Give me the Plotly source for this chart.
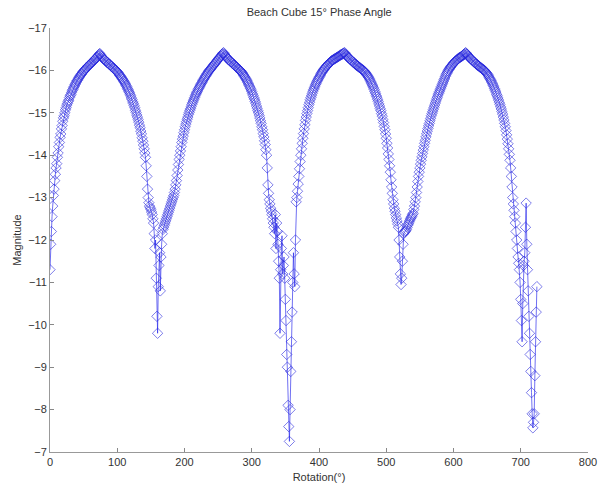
import plotly.graph_objects as go

# Measured magnitude at each rotation angle, one sample per degree (0..724)
magnitude = [
    -11.3, -11.9, -12.2, -12.55, -12.8, -13.05, -13.2, -13.4, -13.55, -13.7,
    -13.8, -13.95, -14.05, -14.2, -14.3, -14.42, -14.5, -14.62, -14.7, -14.8,
    -14.88, -14.93, -15.0, -15.07, -15.12, -15.18, -15.22, -15.27, -15.3, -15.36,
    -15.4, -15.43, -15.48, -15.52, -15.55, -15.59, -15.62, -15.66, -15.68, -15.72,
    -15.75, -15.77, -15.8, -15.83, -15.85, -15.88, -15.9, -15.92, -15.94, -15.97,
    -15.98, -16.0, -16.02, -16.04, -16.06, -16.07, -16.09, -16.11, -16.12, -16.14,
    -16.15, -16.17, -16.18, -16.2, -16.22, -16.23, -16.25, -16.27, -16.28, -16.3,
    -16.31, -16.33, -16.35, -16.38, -16.4, -16.37, -16.34, -16.32, -16.3, -16.28,
    -16.27, -16.25, -16.24, -16.22, -16.21, -16.19, -16.18, -16.16, -16.15, -16.13,
    -16.12, -16.1, -16.09, -16.07, -16.06, -16.04, -16.03, -16.01, -16.0, -15.98,
    -15.97, -15.95, -15.93, -15.9, -15.88, -15.86, -15.84, -15.81, -15.79, -15.76,
    -15.74, -15.71, -15.68, -15.65, -15.62, -15.58, -15.55, -15.51, -15.48, -15.44,
    -15.4, -15.35, -15.31, -15.26, -15.22, -15.17, -15.12, -15.06, -15.01, -14.95,
    -14.9, -14.84, -14.78, -14.71, -14.65, -14.57, -14.5, -14.41, -14.33, -14.24,
    -14.15, -14.05, -13.95, -13.75, -13.5, -13.2, -13.0, -12.88, -12.8, -12.76,
    -12.72, -12.66, -12.6, -12.5, -12.4, -12.15, -11.8, -12.0, -11.1, -10.2,
    -9.8, -10.9, -11.4, -11.7, -10.8, -11.6, -11.9, -12.15, -12.25, -12.3,
    -12.35, -12.4, -12.45, -12.5, -12.55, -12.6, -12.65, -12.7, -12.75, -12.8,
    -12.85, -12.9, -12.95, -13.0, -13.05, -13.12, -13.2, -13.3, -13.4, -13.52,
    -13.65, -13.78, -13.9, -14.0, -14.1, -14.2, -14.3, -14.38, -14.45, -14.53,
    -14.6, -14.67, -14.73, -14.79, -14.85, -14.9, -14.96, -15.01, -15.06, -15.1,
    -15.15, -15.2, -15.24, -15.28, -15.32, -15.36, -15.4, -15.44, -15.47, -15.5,
    -15.54, -15.57, -15.6, -15.63, -15.66, -15.69, -15.72, -15.75, -15.78, -15.8,
    -15.83, -15.86, -15.88, -15.91, -15.93, -15.96, -15.98, -16.0, -16.02, -16.04,
    -16.06, -16.08, -16.1, -16.12, -16.14, -16.16, -16.18, -16.2, -16.22, -16.24,
    -16.26, -16.28, -16.3, -16.32, -16.34, -16.36, -16.38, -16.4, -16.42, -16.39,
    -16.36, -16.34, -16.32, -16.3, -16.28, -16.26, -16.25, -16.23, -16.22, -16.2,
    -16.19, -16.17, -16.16, -16.14, -16.13, -16.11, -16.1, -16.08, -16.07, -16.05,
    -16.04, -16.02, -16.01, -15.99, -15.98, -15.96, -15.94, -15.91, -15.89, -15.86,
    -15.84, -15.81, -15.78, -15.75, -15.72, -15.68, -15.65, -15.61, -15.58, -15.54,
    -15.5, -15.45, -15.41, -15.36, -15.32, -15.27, -15.22, -15.16, -15.11, -15.05,
    -15.0, -14.94, -14.88, -14.81, -14.75, -14.67, -14.6, -14.51, -14.43, -14.34,
    -14.25, -14.13, -14.0, -13.7, -13.3, -13.1, -12.95, -12.85, -12.75, -12.68,
    -12.6, -12.5, -12.4, -12.3, -12.15, -12.6, -11.8, -12.4, -12.2, -11.9,
    -11.5, -11.1, -9.8, -11.3, -11.8, -12.1, -11.2, -11.4, -11.6, -11.1,
    -10.6, -10.1, -9.3, -9.0, -8.1, -7.6, -7.25, -8.0, -8.9, -9.6,
    -10.3, -11.0, -11.7, -11.2, -10.9, -12.0, -12.9, -13.0, -13.15, -13.32,
    -13.5, -13.68, -13.85, -14.0, -14.15, -14.28, -14.4, -14.51, -14.62, -14.72,
    -14.82, -14.9, -14.98, -15.05, -15.12, -15.19, -15.25, -15.31, -15.36, -15.41,
    -15.46, -15.51, -15.55, -15.59, -15.63, -15.67, -15.7, -15.74, -15.77, -15.8,
    -15.83, -15.86, -15.89, -15.92, -15.95, -15.97, -16.0, -16.02, -16.04, -16.06,
    -16.08, -16.1, -16.12, -16.13, -16.15, -16.17, -16.18, -16.2, -16.21, -16.23,
    -16.24, -16.25, -16.26, -16.27, -16.28, -16.29, -16.3, -16.31, -16.32, -16.33,
    -16.34, -16.35, -16.36, -16.37, -16.38, -16.39, -16.4, -16.41, -16.42, -16.39,
    -16.37, -16.35, -16.33, -16.31, -16.3, -16.28, -16.27, -16.25, -16.24, -16.22,
    -16.21, -16.19, -16.18, -16.16, -16.15, -16.13, -16.12, -16.11, -16.1, -16.08,
    -16.07, -16.06, -16.05, -16.03, -16.02, -16.01, -16.0, -15.98, -15.97, -15.95,
    -15.93, -15.9, -15.88, -15.85, -15.83, -15.8, -15.77, -15.73, -15.7, -15.66,
    -15.63, -15.59, -15.55, -15.5, -15.46, -15.41, -15.37, -15.32, -15.27, -15.21,
    -15.16, -15.1, -15.05, -14.98, -14.92, -14.84, -14.77, -14.68, -14.6, -14.5,
    -14.4, -14.28, -14.17, -14.03, -13.9, -13.75, -13.6, -13.42, -13.25, -13.1,
    -12.95, -12.85, -12.75, -12.68, -12.6, -12.52, -12.45, -12.38, -12.3, -12.0,
    -11.6, -11.2, -10.95, -11.1, -11.5, -11.9, -12.15, -12.18, -12.2, -12.22,
    -12.25, -12.3, -12.35, -12.38, -12.42, -12.46, -12.5, -12.53, -12.56, -12.6,
    -12.63, -12.72, -12.8, -12.9, -13.0, -13.12, -13.25, -13.38, -13.5, -13.6,
    -13.7, -13.79, -13.88, -13.96, -14.04, -14.12, -14.2, -14.28, -14.35, -14.43,
    -14.5, -14.57, -14.63, -14.69, -14.75, -14.81, -14.87, -14.93, -14.98, -15.03,
    -15.08, -15.13, -15.18, -15.23, -15.28, -15.33, -15.37, -15.42, -15.46, -15.5,
    -15.54, -15.58, -15.62, -15.66, -15.7, -15.74, -15.78, -15.82, -15.86, -15.9,
    -15.93, -15.96, -15.99, -16.02, -16.04, -16.07, -16.09, -16.11, -16.13, -16.15,
    -16.17, -16.19, -16.2, -16.22, -16.23, -16.25, -16.26, -16.28, -16.29, -16.3,
    -16.31, -16.32, -16.33, -16.34, -16.35, -16.37, -16.38, -16.4, -16.42, -16.4,
    -16.38, -16.36, -16.34, -16.32, -16.3, -16.28, -16.27, -16.25, -16.24, -16.22,
    -16.21, -16.19, -16.18, -16.16, -16.15, -16.13, -16.12, -16.11, -16.1, -16.08,
    -16.07, -16.06, -16.05, -16.03, -16.02, -16.01, -16.0, -15.98, -15.96, -15.94,
    -15.92, -15.9, -15.87, -15.84, -15.81, -15.78, -15.75, -15.72, -15.68, -15.65,
    -15.61, -15.57, -15.53, -15.49, -15.44, -15.4, -15.35, -15.3, -15.25, -15.2,
    -15.14, -15.09, -15.03, -14.97, -14.9, -14.83, -14.75, -14.67, -14.58, -14.48,
    -14.38, -14.27, -14.15, -14.02, -13.88, -13.7, -13.5, -13.25, -13.0, -12.85,
    -12.7, -12.55, -12.4, -12.2, -12.0, -11.8, -11.6, -11.45, -11.3, -11.0,
    -10.6, -10.1, -9.6, -10.5, -11.4, -11.5, -11.7, -12.3, -12.87, -11.9,
    -11.3, -10.8, -10.2, -9.8, -9.3, -8.9, -8.4, -7.9, -7.57, -7.7,
    -7.9, -8.8, -9.6, -10.3, -10.9,
]

# Rotation angle (degrees) of each sample
rotation = list(range(0, 725))
assert len(rotation) == len(magnitude)

x_ticks = [0, 100, 200, 300, 400, 500, 600, 700, 800]
y_ticks = [-17, -16, -15, -14, -13, -12, -11, -10, -9, -8, -7]

fig = go.Figure(
    go.Scatter(
        x=rotation,
        y=magnitude,
        mode="lines+markers",
        line=dict(color="rgba(30,30,235,0.8)", width=0.8),
        marker=dict(symbol="diamond-open", size=8,
                    color="rgba(40,40,220,0.6)",
                    line=dict(width=1)),
        showlegend=False,
    )
)

axis_font = dict(family="Liberation Sans, Arial, sans-serif", size=11, color="#333333")

fig.update_layout(
    width=600,
    height=492,
    margin=dict(l=50, r=12, t=28, b=40),
    paper_bgcolor="white",
    plot_bgcolor="white",
    font=axis_font,
    title=dict(
        text="Beach Cube 15\u00b0 Phase Angle",
        x=0.532, xanchor="center",
        y=0.975, yanchor="middle",
        font=dict(family="Liberation Sans, Arial, sans-serif", size=11, color="#333333"),
    ),
)

fig.update_xaxes(
    range=[0, 800],
    tickvals=x_ticks,
    ticks="inside", ticklen=4, tickcolor="#888888",
    showline=True, linecolor="#999999", linewidth=1, mirror=False,
    showgrid=False, zeroline=False, automargin=False,
    title=dict(text="Rotation(\u00b0)", standoff=6, font=axis_font),
    tickfont=axis_font,
)

fig.update_yaxes(
    range=[-7, -17],
    tickvals=y_ticks,
    ticks="inside", ticklen=4, tickcolor="#888888",
    showline=True, linecolor="#999999", linewidth=1, mirror=False,
    showgrid=False, zeroline=False, automargin=False,
    title=dict(text="Magnitude", standoff=4, font=axis_font),
    tickfont=axis_font,
)

fig.write_html("out.html")
